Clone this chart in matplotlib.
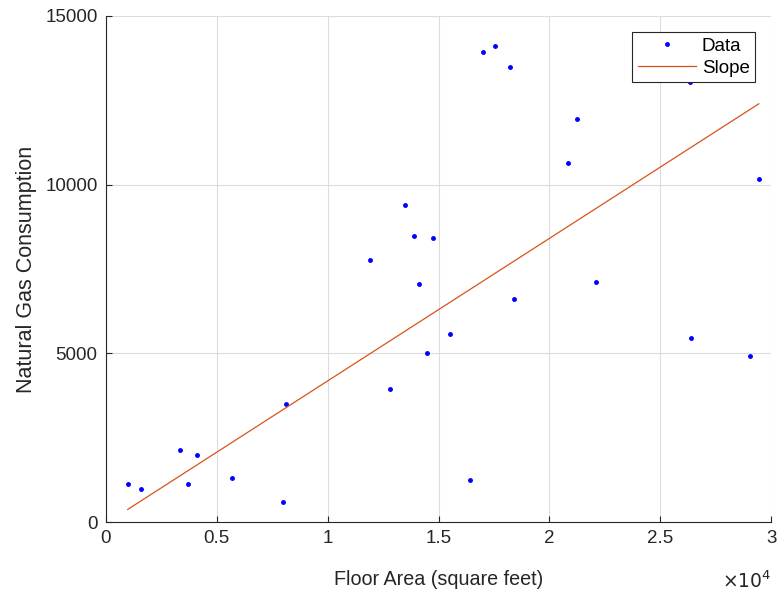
import numpy as np
import matplotlib
matplotlib.use('Agg')
import matplotlib.pyplot as plt

plt.rcParams['font.family'] = ['Liberation Sans', 'DejaVu Sans']

# valori
floor_area = [980, 1580, 3340, 3680, 4090, 5700, 7970, 8100, 11910, 12810,
              13500, 13880, 14120, 14460, 14760, 15520, 16420, 17000, 17550, 18240,
              18400, 20850, 21260, 22090, 26340, 26400, 29050, 29440]
gas = [1130, 990, 2130, 1120, 2000, 1300, 590, 3510, 7760, 3940,
       9390, 8490, 7070, 5000, 8420, 5590, 1250, 13940, 14110, 13500,
       6600, 10630, 11950, 7120, 13050, 5470, 4910, 10180]
slope = 0.4224
intercept = -38
xtick_vals = [0, 5000, 10000, 15000, 20000, 25000, 30000]
xtick_labels = ['0', '0.5', '1', '1.5', '2', '2.5', '3']
ytick_vals = [0, 5000, 10000, 15000]

fig = plt.figure(figsize=(7.79, 5.92), dpi=100)
ax = fig.add_axes([0.136, 0.118, 0.854, 0.855])

ax.plot(floor_area, gas, '.', color='blue', markersize=5, label='Data')
xl = np.array([min(floor_area), max(floor_area)])
ax.plot(xl, slope * xl + intercept, color=(0.85, 0.325, 0.098), linewidth=0.9, label='Slope')

ax.set_xlim(0, 30000)
ax.set_ylim(0, 15000)
ax.set_xticks(xtick_vals)
ax.set_xticklabels(xtick_labels)
ax.set_yticks(ytick_vals)
ax.grid(True, color='#dcdcdc', linewidth=0.8)
ax.set_axisbelow(True)
for s in ['top', 'right']:
    ax.spines[s].set_visible(False)
for s in ['left', 'bottom']:
    ax.spines[s].set_color('#262626')
ax.tick_params(direction='in', length=4, colors='#262626', labelsize=13.5, pad=6)

ax.set_xlabel('Floor Area (square feet)', fontsize=14.2, color='#262626', labelpad=16)
ax.set_ylabel('Natural Gas Consumption', fontsize=15.5, color='#262626', labelpad=6)
ax.text(1.0, -0.095, r'$\times10^{4}$', transform=ax.transAxes, ha='right', va='top',
        fontsize=13.5, color='#262626')

leg = ax.legend(loc='upper right', bbox_to_anchor=(0.976, 0.968), fontsize=13.5,
                fancybox=False, framealpha=1, edgecolor='#262626', borderpad=0.3,
                handlelength=3.1, labelspacing=0.25, handletextpad=0.3,
                borderaxespad=0.0)
leg.get_frame().set_linewidth(0.8)

plt.savefig('out.png', dpi=100)
